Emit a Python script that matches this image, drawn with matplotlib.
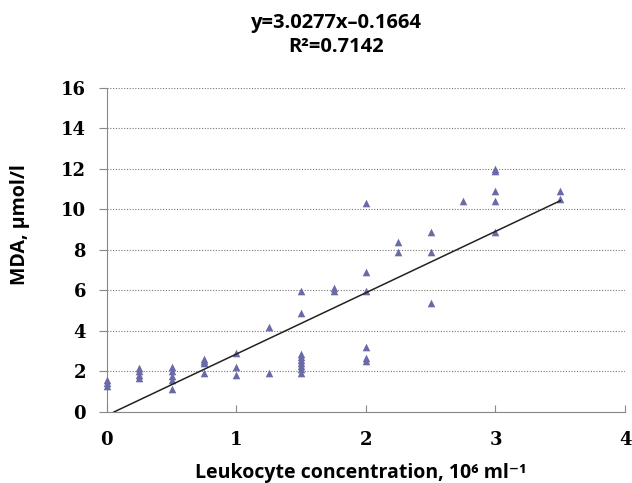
import numpy as np
import matplotlib
matplotlib.use("Agg")
import matplotlib.pyplot as plt

# Data (leukocyte conc. vs MDA)
x_vals = [0, 0, 0,
          0.25, 0.25, 0.25, 0.25,
          0.5, 0.5, 0.5, 0.5, 0.5,
          0.75, 0.75, 0.75, 0.75,
          1, 1, 1,
          1.25, 1.25,
          1.5, 1.5, 1.5, 1.5, 1.5, 1.5, 1.5, 1.5, 1.5,
          1.75, 1.75,
          2, 2, 2, 2, 2, 2,
          2.25, 2.25,
          2.5, 2.5, 2.5,
          2.75,
          3, 3, 3, 3, 3,
          3.5, 3.5]
y_vals = [1.3, 1.45, 1.6,
          1.7, 1.85, 2.0, 2.15,
          1.15, 1.6, 1.8, 2.0, 2.2,
          1.95, 2.4, 2.5, 2.6,
          1.85, 2.2, 2.9,
          1.95, 4.2,
          1.95, 2.1, 2.25, 2.4, 2.55, 2.7, 2.85, 4.9, 5.95,
          5.95, 6.1,
          2.5, 2.65, 3.2, 5.95, 6.9, 10.3,
          7.9, 8.4,
          5.4, 7.9, 8.9,
          10.4,
          8.9, 10.4, 10.9, 11.9, 12.0,
          10.5, 10.9]

# Trend line coefficients
slope = 3.0277
intercept = -0.1664
r2 = 0.7142

x_ticks = [0, 1, 2, 3, 4]
y_ticks = [0, 2, 4, 6, 8, 10, 12, 14, 16]

fig = plt.figure(figsize=(6.32, 4.83), dpi=100)
ax = fig.add_axes([0.169, 0.147, 0.820, 0.671])

ax.scatter(x_vals, y_vals, marker='^', s=30, color='#6a6aa8', zorder=3,
           linewidths=0, clip_on=False)

# trend line starts where it crosses y=0
xl = np.array([-intercept / slope, 3.5])
ax.plot(xl, slope * xl + intercept, color='#222222', lw=1.1, zorder=4)

ax.set_xlim(0, 4)
ax.set_ylim(0, 16)
ax.set_xticks(x_ticks)
ax.set_yticks(y_ticks)
ax.yaxis.grid(True, linestyle=(0, (1, 1.5)), color='#777777', lw=0.8)
ax.set_axisbelow(True)

for s in ['top', 'right']:
    ax.spines[s].set_visible(False)
for s in ['left', 'bottom']:
    ax.spines[s].set_color('#888888')

ax.tick_params(axis='x', direction='in', length=5, color='#888888', pad=14)
ax.tick_params(axis='y', direction='out', length=6, color='#888888', pad=9)
for lab in ax.get_xticklabels() + ax.get_yticklabels():
    lab.set_fontfamily('DejaVu Serif')
    lab.set_fontweight('bold')
    lab.set_fontsize(13)

sans = ['Open Sans', 'DejaVu Sans']
ax.set_xlabel('Leukocyte concentration, 10\u2076 ml\u207b\u00b9', family=sans,
              fontweight='bold', fontsize=14)
ax.xaxis.set_label_coords(0.49, -0.157)
ax.set_ylabel('MDA, \u00b5mol/l', family=sans, fontweight='bold', fontsize=14)
ax.yaxis.set_label_coords(-0.148, 0.578)

fig.text(0.532, 0.952, 'y=%.4fx\u2013%.4f' % (slope, -intercept), family=sans,
         fontweight='bold', fontsize=14.5, ha='center', va='center')
fig.text(0.532, 0.903, 'R\u00b2=%.4f' % r2, family=sans,
         fontweight='bold', fontsize=14.5, ha='center', va='center')

fig.savefig('out.png', dpi=100)
